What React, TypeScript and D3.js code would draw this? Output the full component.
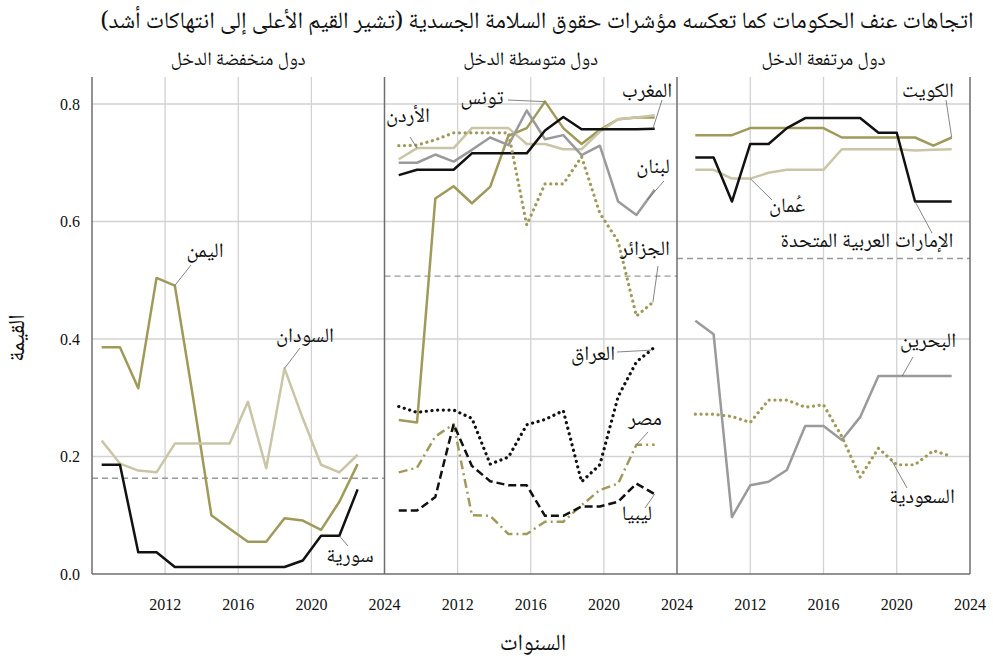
import React from 'react';
import * as d3 from 'd3';

const years = [2009, 2010, 2011, 2012, 2013, 2014, 2015, 2016, 2017, 2018, 2019, 2020, 2021, 2022, 2023];
const yTicks = [0, 0.2, 0.4, 0.6, 0.8];
const xTicks = [2012, 2016, 2020, 2024];
const panelTitles = ['دول منخفضة الدخل', 'دول متوسطة الدخل', 'دول مرتفعة الدخل'];
const panelMedians = [0.163, 0.507, 0.537];
// each panel's points sit slightly differently against the year grid
const panelYearOffset = [-0.47, -0.22, 0];

// low income
const yemen = [0.386, 0.386, 0.316, 0.504, 0.491, 0.3, 0.1, 0.077, 0.055, 0.055, 0.095, 0.091, 0.075, 0.123, 0.187];
const sudan = [0.227, 0.188, 0.176, 0.173, 0.222, 0.222, 0.222, 0.222, 0.293, 0.18, 0.35, 0.265, 0.186, 0.173, 0.203];
const syria = [0.186, 0.186, 0.037, 0.037, 0.012, 0.012, 0.012, 0.012, 0.012, 0.012, 0.012, 0.023, 0.065, 0.065, 0.144];

// middle income
const tunisia = [0.262, 0.258, 0.639, 0.66, 0.631, 0.659, 0.746, 0.759, 0.804, 0.759, 0.732, 0.756, 0.774, 0.777, 0.777];
const jordan = [0.706, 0.725, 0.725, 0.725, 0.759, 0.759, 0.759, 0.732, 0.732, 0.723, 0.723, 0.753, 0.774, 0.777, 0.781];
const morocco = [0.679, 0.688, 0.688, 0.688, 0.716, 0.716, 0.716, 0.716, 0.755, 0.778, 0.757, 0.757, 0.757, 0.757, 0.758];
const lebanon = [0.7, 0.7, 0.714, 0.702, 0.722, 0.743, 0.73, 0.789, 0.74, 0.747, 0.713, 0.729, 0.634, 0.611, 0.654];
const algeria = [0.729, 0.73, 0.739, 0.751, 0.751, 0.751, 0.751, 0.594, 0.664, 0.664, 0.71, 0.614, 0.566, 0.439, 0.465];
const iraq = [0.285, 0.275, 0.279, 0.279, 0.265, 0.187, 0.199, 0.254, 0.263, 0.278, 0.157, 0.186, 0.302, 0.361, 0.386];
const egypt = [0.173, 0.181, 0.234, 0.255, 0.1, 0.099, 0.068, 0.068, 0.089, 0.089, 0.117, 0.143, 0.154, 0.22, 0.22];
const libya = [0.108, 0.108, 0.131, 0.255, 0.184, 0.158, 0.151, 0.151, 0.099, 0.099, 0.115, 0.115, 0.123, 0.154, 0.136];

// high income
const kuwait = [0.747, 0.747, 0.747, 0.759, 0.759, 0.759, 0.759, 0.759, 0.743, 0.743, 0.743, 0.743, 0.743, 0.729, 0.743];
const oman = [0.688, 0.688, 0.673, 0.673, 0.683, 0.688, 0.688, 0.688, 0.723, 0.723, 0.723, 0.723, 0.721, 0.722, 0.723];
const uae = [0.709, 0.709, 0.634, 0.732, 0.732, 0.759, 0.776, 0.776, 0.776, 0.776, 0.751, 0.751, 0.634, 0.634, 0.634];
const bahrain = [0.431, 0.408, 0.097, 0.151, 0.157, 0.177, 0.252, 0.252, 0.228, 0.267, 0.337, 0.337, 0.337, 0.337, 0.337];
const saudi = [0.272, 0.272, 0.268, 0.258, 0.296, 0.296, 0.284, 0.288, 0.234, 0.165, 0.214, 0.186, 0.186, 0.21, 0.2];

const OLIVE = '#a09a5a';
const KHAKI = '#c9c5a6';
const GREY = '#9a9a9a';
const BLACK = '#111111';

const DOTS = '0.1 5.6';
const DASH = '8 4';
const DASHDOT = '9 4 2 4';

const series = [
  { panel: 0, name: 'اليمن', values: yemen, color: OLIVE, dash: null, label: [205, 252], from: [191, 265], at: 4 },
  { panel: 0, name: 'السودان', values: sudan, color: KHAKI, dash: null, label: [305, 337], from: [300, 348], at: 10 },
  { panel: 0, name: 'سورية', values: syria, color: BLACK, dash: null, label: [350, 557], from: [348, 546], at: 13 },
  { panel: 1, name: 'تونس', values: tunisia, color: OLIVE, dash: null, label: [482, 99], from: [508, 100], at: 8 },
  { panel: 1, name: 'الأردن', values: jordan, color: KHAKI, dash: null, label: [408, 117], from: [410, 137], at: 1 },
  { panel: 1, name: 'لبنان', values: lebanon, color: GREY, dash: null, label: [653, 168], from: [664, 181], at: 13.6 },
  { panel: 1, name: 'المغرب', values: morocco, color: BLACK, dash: null, label: [647, 92], from: [662, 100], at: 13.9 },
  { panel: 1, name: 'الجزائر', values: algeria, color: OLIVE, dash: DOTS, label: [645, 250], from: [658, 266], at: 13.9 },
  { panel: 1, name: 'العراق', values: iraq, color: BLACK, dash: DOTS, label: [593, 355], from: [617, 352], at: 13.8 },
  { panel: 1, name: 'مصر', values: egypt, color: OLIVE, dash: DASHDOT, label: [645, 420], from: [648, 432], at: 13 },
  { panel: 1, name: 'ليبيا', values: libya, color: BLACK, dash: DASH, label: [637, 515], from: [645, 508], at: 14 },
  { panel: 2, name: 'الكويت', values: kuwait, color: OLIVE, dash: null, label: [928, 92], from: [946, 100], at: 14 },
  { panel: 2, name: 'عُمان', values: oman, color: KHAKI, dash: null, label: [787, 207], from: [772, 200], at: 3 },
  { panel: 2, name: 'الإمارات العربية المتحدة', values: uae, color: BLACK, dash: null, label: [867, 242], from: [932, 233], at: 12 },
  { panel: 2, name: 'البحرين', values: bahrain, color: GREY, dash: null, label: [928, 342], from: [913, 357], at: 11.3 },
  { panel: 2, name: 'السعودية', values: saudi, color: OLIVE, dash: DOTS, label: [922, 498], from: [907, 488], at: 10.7 },
];

const ARABIC = "'Noto Naskh Arabic', 'Noto Sans Arabic', 'DejaVu Sans', serif";
const NUMS = "'Liberation Serif', 'Times New Roman', serif";

export default function App() {
  const width = 993;
  const height = 664;
  const top = 77;
  const panelEdges = [92, 384.5, 677, 970];

  const y = d3.scaleLinear().domain([0, 0.8]).range([574, 104]);
  const xs = panelTitles.map((_, i) =>
    d3.scaleLinear().domain([2008, 2024]).range([panelEdges[i], panelEdges[i + 1]])
  );

  const lineFor = (p: number) =>
    d3.line<number>()
      .x((_, i) => xs[p](years[i] + panelYearOffset[p]))
      .y((d) => y(d));

  // point on a series at a (possibly fractional) index, for leader lines
  const pointAt = (s: any) => {
    const i0 = Math.floor(s.at);
    const i1 = Math.min(i0 + 1, years.length - 1);
    const t = s.at - i0;
    const yr = years[i0] + (years[i1] - years[i0]) * t + panelYearOffset[s.panel];
    const v = s.values[i0] + (s.values[i1] - s.values[i0]) * t;
    return [xs[s.panel](yr), y(v)];
  };

  return (
    <div style={{ position: 'absolute', left: 0, top: 0 }}>
      <svg width={width} height={height} style={{ display: 'block', background: '#fff' }}>
        <text x={537} y={28} textAnchor="middle" fontFamily={ARABIC} fontSize={23.4} fill="#111" direction="rtl">
          اتجاهات عنف الحكومات كما تعكسه مؤشرات حقوق السلامة الجسدية (تشير القيم الأعلى إلى انتهاكات أشد)
        </text>

        {panelTitles.map((t, p) => (
          <text key={t} x={(panelEdges[p] + panelEdges[p + 1]) / 2} y={65} textAnchor="middle"
            fontFamily={ARABIC} fontSize={19} fill="#111" direction="rtl">{t}</text>
        ))}

        {/* grid */}
        {xs.map((x, p) => (
          <g key={p}>
            {yTicks.filter((v) => v > 0).map((v) => (
              <line key={v} x1={panelEdges[p]} x2={panelEdges[p + 1]} y1={y(v)} y2={y(v)} stroke="#d2d2d2" strokeWidth={1.3} />
            ))}
            {xTicks.slice(0, 3).map((t) => (
              <line key={t} x1={x(t)} x2={x(t)} y1={top} y2={y(0)} stroke="#d2d2d2" strokeWidth={1.3} />
            ))}
            <line x1={panelEdges[p]} x2={panelEdges[p + 1]} y1={y(panelMedians[p])} y2={y(panelMedians[p])}
              stroke="#999" strokeWidth={1.4} strokeDasharray="6 4" />
          </g>
        ))}

        {/* frame */}
        {panelEdges.map((e) => (
          <line key={e} x1={e} x2={e} y1={top} y2={y(0)} stroke="#6e6e6e" strokeWidth={1.5} />
        ))}
        <line x1={panelEdges[0]} x2={panelEdges[3]} y1={y(0)} y2={y(0)} stroke="#6e6e6e" strokeWidth={1.5} />

        {/* series */}
        {series.map((s) => (
          <path key={s.name} d={lineFor(s.panel)(s.values) || ''} fill="none" stroke={s.color}
            strokeWidth={s.dash === DOTS ? 3.2 : 2.5}
            strokeDasharray={s.dash || undefined}
            strokeLinecap={s.dash === DOTS ? 'round' : 'butt'}
            strokeLinejoin="round" />
        ))}

        {/* labels */}
        {series.map((s) => {
          const [px, py] = pointAt(s);
          return (
            <g key={s.name + 'l'}>
              <line x1={s.from[0]} y1={s.from[1]} x2={px} y2={py} stroke="#666" strokeWidth={0.8} />
              <text x={s.label[0]} y={s.label[1]} textAnchor="middle" dominantBaseline="central"
                fontFamily={ARABIC} fontSize={20.5} fill="#111" direction="rtl">{s.name}</text>
            </g>
          );
        })}

        {/* axes */}
        {yTicks.map((v) => (
          <text key={v} x={80} y={y(v)} textAnchor="end" dominantBaseline="central"
            fontFamily={NUMS} fontSize={16} fill="#111">{v.toFixed(1)}</text>
        ))}
        {xs.map((x, p) =>
          xTicks.map((t) => (
            <text key={p + '-' + t} x={x(t)} y={604} textAnchor="middle" dominantBaseline="central"
              fontFamily={NUMS} fontSize={16} fill="#111">{t}</text>
          ))
        )}

        <text x={533} y={645} textAnchor="middle" dominantBaseline="central" fontFamily={ARABIC}
          fontSize={23} fill="#111" direction="rtl">السنوات</text>
        <text transform="translate(19,338) rotate(-90)" textAnchor="middle" dominantBaseline="central"
          fontFamily={ARABIC} fontSize={23} fill="#111" direction="rtl">القيمة</text>
      </svg>
    </div>
  );
}
